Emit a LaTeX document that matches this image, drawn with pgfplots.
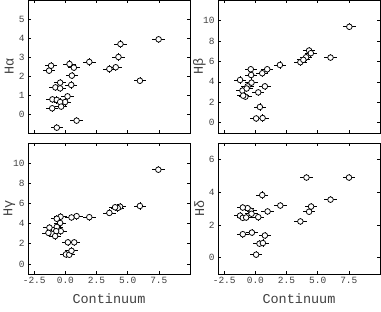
\documentclass[border=0pt]{standalone}
\usepackage{fontspec}
\setmainfont{Liberation Mono}
\usepackage{pgfplots}
\pgfplotsset{compat=1.18}
\pgfplotsset{
  panel/.style={
    scale only axis, width=162pt,
    xmin=-3, xmax=10, xtick={-2.5,0,2.5,5,7.5},
    tick align=inside, major tick length=3pt,
    tick style={black, line width=0.6pt},
    axis line style={line width=0.8pt},
    /pgf/number format/assume math mode=true,
    ticklabel style={font=\fontsize{9.5}{11}\selectfont, text=black!75},
    xticklabel style={/pgf/number format/.cd, fixed, fixed zerofill, precision=1},
    label style={font=\fontsize{13.5}{15}\selectfont, text=black!75},
    ylabel style={at={(axis description cs:-0.115,0.5)}, anchor=center, rotate=0},
    xlabel style={at={(axis description cs:0.5,-0.19)}, anchor=center},
  },
  pts/.style={only marks, mark=*, mark size=2.8pt,
    mark options={fill=white, draw=black, line width=0.75pt},
    error bars/x dir=both, error bars/y dir=both, error bars/error mark=none,
    error bars/error bar style={line width=0.7pt, black}},
}
\begin{document}
\begin{tikzpicture}
\useasboundingbox (0,0) rectangle (381pt,312pt);
% H alpha
\begin{axis}[panel, at={(28pt,179pt)}, anchor=south west, height=133pt,
  ymin=-1, ymax=6, ytick={0,...,5}, xticklabels={}, ylabel={Hα}]
\addplot[pts, error bars/x fixed=0.5, error bars/y fixed=0.19] table {
x y
7.48 3.93
4.42 3.68
4.26 3.00
4.04 2.46
3.53 2.37
5.98 1.75
1.92 2.74
0.33 2.63
0.68 2.44
0.52 2.02
0.47 1.53
0.17 0.93
-0.02 0.63
0.90 -0.35
-1.15 2.54
-1.31 2.28
-0.42 1.65
-0.80 1.40
-0.42 1.35
-1.04 0.77
-0.69 0.74
-0.42 0.63
-1.06 0.30
-0.34 0.39
-0.69 -0.72
};
\end{axis}
% H beta
\begin{axis}[panel, at={(218pt,179pt)}, anchor=south west, height=133pt,
  ymin=-1, ymax=12, ytick={0,2,...,10}, xticklabels={}, ylabel={Hβ}]
\addplot[pts, error bars/x fixed=0.5, error bars/y fixed=0.35] table {
x y
7.54 9.38
4.31 7.06
4.45 6.80
4.07 6.40
3.61 5.92
3.85 6.15
6.03 6.37
1.97 5.65
0.95 5.23
0.55 4.84
-0.37 5.23
-0.34 4.67
-1.23 4.18
-0.31 3.92
-0.63 3.56
0.76 3.56
-1.04 3.14
0.23 2.97
-0.80 2.55
-0.98 2.65
-0.70 3.35
0.36 1.54
0.06 0.42
0.58 0.46
};
\end{axis}
% H gamma
\begin{axis}[panel, at={(28pt,38pt)}, anchor=south west, height=131pt,
  ymin=-1, ymax=12, ytick={0,2,...,10}, ylabel={Hγ}, xlabel={Continuum}]
\addplot[pts, error bars/x fixed=0.5, error bars/y fixed=0.35] table {
x y
7.46 9.35
5.98 5.75
4.39 5.68
4.20 5.55
3.99 5.62
3.53 5.06
1.92 4.64
0.90 4.74
0.49 4.61
-0.39 4.68
-0.69 4.48
-0.42 4.06
-0.37 3.25
-1.28 3.60
-0.69 3.67
-0.74 3.25
-1.09 2.99
-1.36 3.08
-0.82 2.76
0.20 2.14
0.71 2.14
0.04 0.94
0.31 0.91
0.49 1.30
};
\end{axis}
% H delta
\begin{axis}[panel, at={(218pt,38pt)}, anchor=south west, height=131pt,
  ymin=-1, ymax=7, ytick={0,2,4,6}, ylabel={Hδ}, xlabel={Continuum}]
\addplot[pts, error bars/x fixed=0.5, error bars/y fixed=0.22] table {
x y
7.51 4.89
4.10 4.89
6.03 3.54
4.47 3.12
4.31 2.80
3.61 2.21
2.00 3.18
0.55 3.82
0.98 2.82
0.23 2.47
-0.37 2.86
-0.63 3.02
-1.01 3.06
-0.31 2.68
-1.23 2.56
-1.01 2.43
-0.74 2.45
-1.01 1.43
-0.28 1.53
0.76 1.35
0.33 0.85
0.60 0.89
0.06 0.18
};
\end{axis}
\end{tikzpicture}
\end{document}
